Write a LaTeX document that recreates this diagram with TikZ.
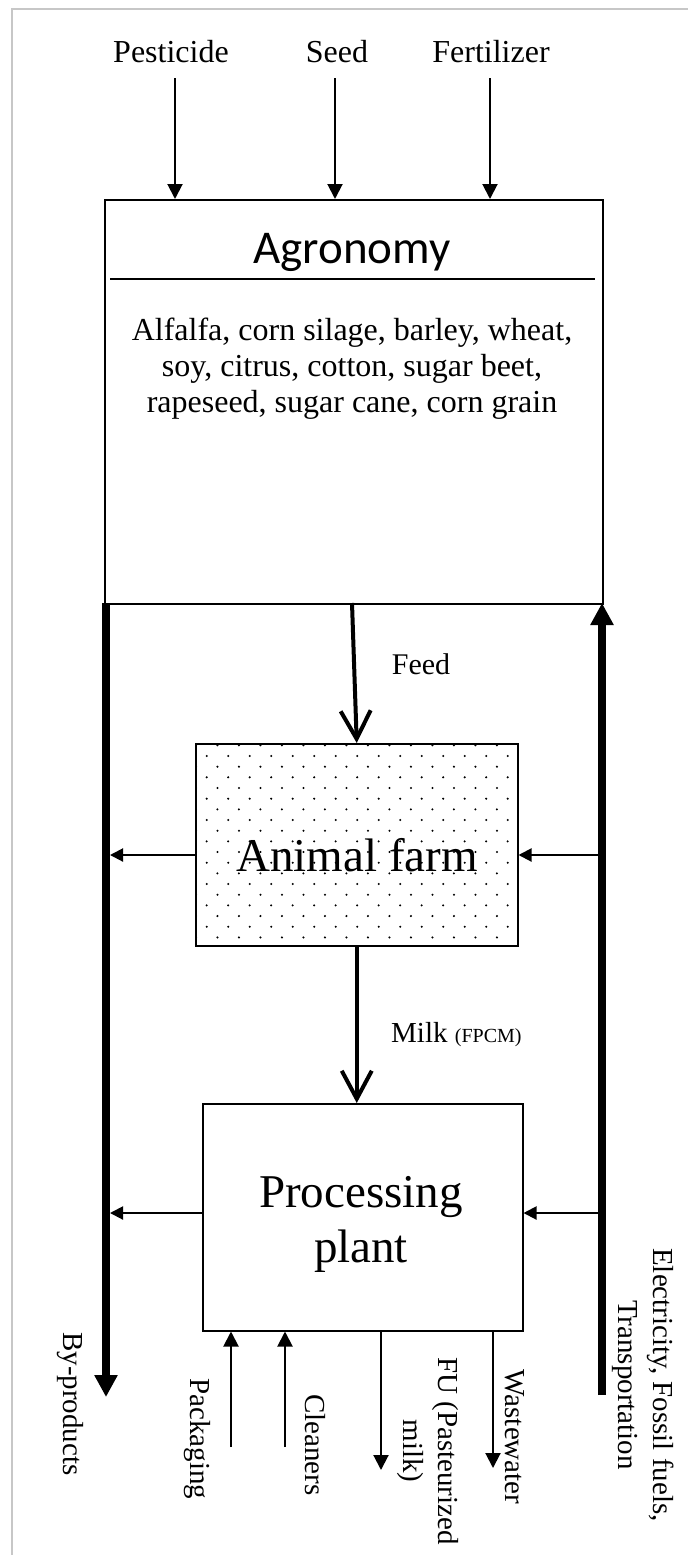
\documentclass[tikz,border=0pt]{standalone}
\usepackage{fontspec}
\setmainfont{Liberation Serif}
\newfontfamily\agfont{Carlito}
\usetikzlibrary{arrows.meta}
\begin{document}
\begin{tikzpicture}[x=1pt,y=-1pt,
  box/.style={draw, line width=1.5pt, inner sep=0pt, anchor=north west},
  lbl/.style={inner sep=0pt, anchor=base, font=\fontsize{32}{36}\selectfont},
  rlbl/.style={inner sep=0pt, rotate=-90, align=center, font=\fontsize{29}{35}\selectfont},
  inarr/.style={line width=2pt, -{Triangle[length=15pt,width=15pt]}},
  sidearr/.style={line width=2pt, -{Triangle[length=13pt,width=13pt]}},
  bigarr/.style={line width=7.5pt, -{Triangle[length=22pt,width=22pt]}},
  flow/.style={line width=4pt, -{Straight Barb[length=28pt,width=30pt]}}]
\useasboundingbox (0,0) rectangle (688,1555);
\fill[white] (0,0) rectangle (688,1555);
\draw[black!22, line width=2pt] (12,1555) -- (12,9) -- (688,9);

% boxes
\node[box, minimum width=498pt, minimum height=404pt] (agro) at (104,199) {};
\node[box, minimum width=322pt, minimum height=202pt] (af) at (195,743) {};
\node[box, minimum width=320pt, minimum height=227pt] (pp) at (202,1103) {};

% dots in animal farm
\begin{scope}
\clip (195.8,743.8) rectangle (516.2,944.2);
\foreach \r in {-1,...,18}{
  \pgfmathsetmacro{\yy}{756+\r*10.67}
  \pgfmathsetmacro{\xo}{206.7+mod(\r+2,2)*10.75}
  \foreach \c in {-1,...,15}{
    \fill (\xo+\c*21.5,\yy) circle (1.15pt);
  }
}
\end{scope}

% agronomy content
\node[inner sep=0pt, anchor=base, font=\agfont\fontsize{47}{50}\selectfont] (agT) at (352,263) {Agronomy};
\coordinate (hlL) at (110,279);
\coordinate (hlR) at (595,279);
\draw[line width=2pt] (hlL) -- (hlR);
\node[lbl] (ag1) at (352,340) {Alfalfa, corn silage, barley, wheat,};
\node[lbl] (ag2) at (352,376) {soy, citrus, cotton, sugar beet,};
\node[lbl] (ag3) at (352,412) {rapeseed, sugar cane, corn grain};

\node[inner sep=0pt, anchor=base, font=\fontsize{47}{52}\selectfont] (afT) at (357,871) {Animal farm};
\node[inner sep=0pt, anchor=base, font=\fontsize{47}{52}\selectfont] (ppT1) at (361,1207) {Processing};
\node[inner sep=0pt, anchor=base, font=\fontsize{47}{52}\selectfont] (ppT2) at (361,1262) {plant};

% top inputs
\node[lbl] (pest) at (171,63) {Pesticide};
\node[lbl] (seed) at (337,63) {Seed};
\node[lbl] (fert) at (491,63) {Fertilizer};
\coordinate (pS) at (175,78);
\coordinate (sS) at (335,78);
\coordinate (fS) at (490,78);
\draw[inarr] (pS) -- (pS |- agro.north);
\draw[inarr] (sS) -- (sS |- agro.north);
\draw[inarr] (fS) -- (fS |- agro.north);

% feed and milk
\coordinate (feedS) at (352,603);
\draw[flow] (feedS) -- (af.north);
\node[inner sep=0pt, anchor=base, font=\fontsize{30}{34}\selectfont] (feed) at (421,674) {Feed};
\draw[flow] (af.south) -- (af.south |- pp.north);
\node[inner sep=0pt, anchor=base west, font=\fontsize{29}{34}\selectfont] (milk) at (391,1042) {Milk {\fontsize{20}{24}\selectfont (FPCM)}};

% thick side lines
\coordinate (bpT) at (106,603);
\coordinate (bpB) at (106,1397);
\draw[bigarr] (bpT) -- (bpB);
\coordinate (enB) at (602,1395);
\coordinate (enT) at (602,603);
\draw[bigarr] (enB) -- (enT);

% side arrows
\coordinate (bpA) at (110,855);
\coordinate (enA) at (598,855);
\draw[sidearr] (af.west |- bpA) -- (bpA);
\draw[sidearr] (enA) -- (enA -| af.east);
\coordinate (bpC) at (110,1213);
\coordinate (enC) at (598,1213);
\draw[sidearr] (pp.west |- bpC) -- (bpC);
\draw[sidearr] (enC) -- (enC -| pp.east);

% bottom arrows
\coordinate (pkS) at (231,1447);
\coordinate (clS) at (285,1447);
\coordinate (fuE) at (381,1470);
\coordinate (wwE) at (493,1468);
\draw[inarr] (pkS) -- (pkS |- pp.south);
\draw[inarr] (clS) -- (clS |- pp.south);
\draw[inarr] (fuE |- pp.south) -- (fuE);
\draw[inarr] (wwE |- pp.south) -- (wwE);

% rotated labels
\node[rlbl] (byp) at (70,1404) {By-products};
\node[rlbl] (pack) at (197,1439) {Packaging};
\node[rlbl] (clean) at (315,1445) {Cleaners};
\node[rlbl] (fu) at (428,1451) {FU (Pasteurized\\milk)};
\node[rlbl] (ww) at (515,1437) {Wastewater};
\node[rlbl] (elec) at (643,1385) {Electricity, Fossil fuels,\\Transportation};
\end{tikzpicture}
\end{document}
